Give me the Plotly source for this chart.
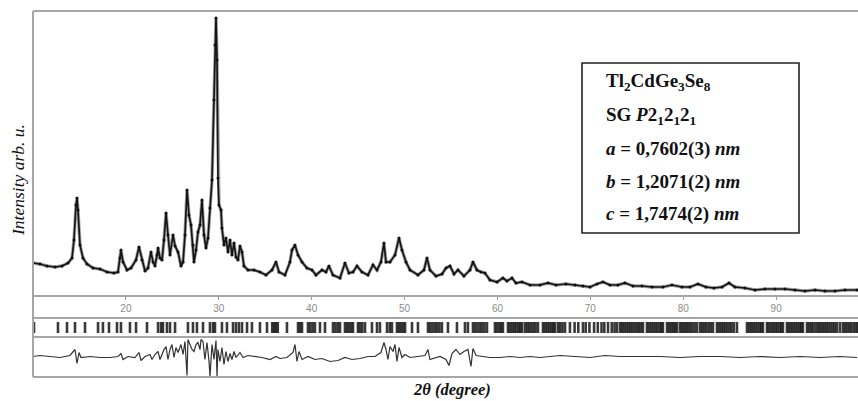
import plotly.graph_objects as go

# ---------------- data ----------------
two_theta = [10.00, 10.75, 11.51, 12.37, 13.12, 13.77, 14.20, 14.41, 14.63, 14.74, 14.84, 15.06, 15.38, 15.81,
             16.46, 17.21, 17.97, 18.72, 19.15, 19.36, 19.47, 19.69, 20.12, 20.55, 21.09, 21.41, 21.73, 22.06,
             22.38, 22.70, 22.92, 23.13, 23.35, 23.46, 23.67, 23.89, 24.10, 24.32, 24.53, 24.75, 25.07, 25.29,
             25.61, 25.93, 26.15, 26.36, 26.58, 26.79, 27.01, 27.22, 27.33, 27.55, 27.76, 27.98, 28.19, 28.41,
             28.62, 28.84, 29.05, 29.27, 29.48, 29.59, 29.70, 29.81, 29.91, 30.02, 30.24, 30.34, 30.56, 30.77,
             30.99, 31.21, 31.42, 31.64, 31.85, 32.07, 32.28, 32.50, 32.71, 33.14, 33.79, 34.43, 35.08, 35.73,
             36.16, 36.48, 37.13, 37.66, 37.88, 38.20, 38.53, 38.96, 39.49, 40.03, 40.46, 41.11, 41.54, 41.86,
             42.29, 43.05, 43.58, 44.01, 44.45, 44.88, 45.41, 46.06, 46.60, 47.03, 47.46, 47.78, 48.00, 48.43,
             48.97, 49.40, 49.72, 50.15, 50.58, 51.44, 52.09, 52.41, 52.73, 53.38, 54.03, 54.46, 54.89, 55.32,
             55.75, 56.39, 57.04, 57.36, 57.79, 58.22, 58.65, 59.19, 59.95, 60.59, 61.02, 61.56, 61.99, 62.64,
             63.50, 64.57, 65.44, 66.30, 67.37, 68.34, 69.20, 69.96, 70.71, 71.36, 72.11, 72.97, 73.72, 74.59,
             75.55, 76.63, 77.81, 78.78, 79.86, 80.72, 81.58, 82.44, 83.30, 84.17, 84.92, 85.56, 86.64, 87.72,
             88.79, 89.87, 90.95, 92.02, 93.10, 94.18, 95.25, 96.33, 97.41, 98.70]

intensity = [3300, 3200, 3000, 2900, 3000, 3300, 3800, 5600, 9100, 9800, 8600, 5100, 3800, 3200,
             2800, 2700, 2400, 2300, 2400, 3800, 4600, 3400, 2600, 2800, 3600, 4900, 3600, 2500,
             2800, 4400, 3400, 3000, 4100, 4800, 3800, 3600, 5600, 8300, 6100, 4100, 6100, 5000,
             4400, 3000, 3400, 6100, 10600, 8100, 7100, 5100, 3400, 4600, 6400, 7100, 9600, 6100,
             4800, 5800, 8800, 11600, 19600, 25100, 27800, 23600, 11800, 9100, 8600, 6800, 5100, 5800,
             4400, 5600, 4100, 5300, 3900, 3600, 5000, 4400, 3000, 2600, 2600, 2400, 2100, 2600,
             3400, 2400, 2100, 3400, 4600, 5100, 4100, 3400, 2800, 2600, 2100, 2600, 2400, 3000,
             2100, 1800, 3300, 2300, 2400, 3000, 2400, 2100, 3100, 2600, 3400, 5300, 3400, 3400,
             4100, 5800, 4600, 3400, 2600, 2100, 2600, 3800, 2600, 2000, 2200, 2800, 3000, 2200,
             2600, 2000, 2600, 3400, 2600, 2400, 2300, 1600, 1400, 1800, 1500, 1800, 1300, 1400,
             1100, 1100, 1300, 1100, 1200, 1100, 1000, 900, 1200, 1400, 1100, 1100, 1300, 1000,
             1000, 900, 900, 1100, 900, 900, 1200, 900, 800, 900, 1300, 900, 800, 600,
             700, 700, 700, 600, 500, 600, 500, 500, 600, 600]

diff_theta = [10.00, 10.75, 11.83, 12.91, 13.98, 14.52, 14.74, 14.95, 15.17, 16.14, 17.21, 18.29, 19.15, 19.47,
              19.69, 20.23, 20.98, 21.41, 21.63, 22.06, 22.59, 22.81, 23.13, 23.46, 23.67, 23.89, 24.10, 24.32,
              24.53, 24.75, 24.96, 25.18, 25.39, 25.61, 25.93, 26.15, 26.36, 26.58, 26.68, 26.90, 27.12, 27.33,
              27.55, 27.76, 27.98, 28.08, 28.30, 28.51, 28.73, 28.95, 29.05, 29.27, 29.48, 29.70, 29.81, 29.91,
              30.13, 30.34, 30.56, 30.77, 30.99, 31.21, 31.42, 31.64, 31.85, 32.28, 32.61, 33.14, 33.90, 34.65,
              35.51, 36.16, 36.59, 37.34, 37.99, 38.20, 38.42, 38.63, 38.96, 39.60, 40.35, 41.11, 41.97, 42.83,
              43.58, 44.34, 45.20, 46.06, 46.81, 47.46, 47.78, 48.00, 48.21, 48.43, 48.75, 48.97, 49.18, 49.40,
              49.72, 50.04, 50.58, 51.44, 52.20, 52.52, 52.73, 53.81, 54.46, 54.78, 55.10, 55.53, 55.96, 56.39,
              56.82, 57.15, 57.36, 57.69, 58.33, 59.19, 60.27, 61.35, 62.42, 63.50, 64.57, 65.65, 66.73, 68.34,
              69.96, 71.57, 73.19, 75.34, 77.49, 79.64, 81.80, 83.95, 86.10, 88.25, 90.41, 92.56, 94.72, 96.87,
              98.70]

diff_values = [0, 100, 0, -100, 100, 700, -700, 400, -100, 0, -100, -100, 0, 300,
               -300, 0, -100, 400, -400, 0, 200, -300, 200, 500, -300, 300, 700, 1000,
               -300, 700, 1200, -100, 900, 400, 1200, 200, 1500, -1900, 1700, 1200, 700, 500,
               1200, 1400, 700, 1700, 1500, -300, 1400, -500, -2000, 1200, -300, 1600, -2000, 700,
               -500, 900, -800, 500, -500, 300, -300, 500, -100, 400, -100, 100, 0, -100,
               -300, 0, -200, -100, 400, 1200, -500, 500, -300, 0, -300, -200, -500, -400,
               -100, -300, -200, 0, 0, 400, 1400, 700, -300, 1000, 500, 1200, -500, 900,
               -100, 200, -100, 0, 100, 700, -300, 0, -300, -900, 300, 700, 200, 500,
               700, -1000, 800, 100, 0, -100, -100, 0, -100, 0, -100, 0, 100, 0,
               -100, 100, 0, 0, 0, -100, 0, 0, -100, 0, -100, 0, -100, 0,
               -100]

bragg_positions = [10.11, 12.69, 13.66, 14.52, 15.60, 17.00, 17.53, 18.18, 19.04, 19.47, 20.44, 21.09, 22.27,
                   23.46, 23.78, 23.99, 24.42, 24.75, 25.29, 26.68, 27.22, 27.65, 28.30, 29.05, 29.38, 29.59,
                   30.34, 30.88, 31.53, 31.85, 32.17, 32.50, 33.04, 33.57, 34.43, 35.19,
                   35.75, 35.95, 36.15, 36.35, 37.34, 38.53, 38.75, 38.96, 39.60, 39.85, 40.10, 40.35, 40.89,
                   41.43, 42.29, 42.55, 42.80, 43.05, 43.58, 43.80, 44.02, 44.25, 44.45, 44.98, 45.20, 45.45,
                   45.74, 46.49, 47.03, 47.35, 48.11, 48.40, 48.64, 49.18, 49.40, 49.62, 49.85, 50.05, 50.80,
                   51.44, 52.52, 52.75, 53.00, 53.25, 53.50, 53.75, 54.02, 54.67, 55.64, 56.50, 56.82, 57.36,
                   57.60, 57.85, 58.10, 58.35, 58.60, 58.87, 59.73, 59.95, 60.20, 60.40, 60.59,
                   61.13, 61.35, 61.58, 61.80, 62.02, 62.25, 62.45, 62.64, 62.96, 63.20, 63.42, 63.65, 63.88,
                   64.10, 64.36, 64.90, 65.12, 65.35, 65.58, 65.80, 66.00, 66.19, 66.51, 66.75, 67.00, 67.27,
                   67.80, 68.30, 68.70, 69.20, 69.50, 69.90, 70.40, 70.80, 71.20, 71.50, 71.90, 72.30, 72.60,
                   72.86, 73.19, 73.40, 73.62, 73.85, 74.08, 74.30, 74.52, 74.75, 74.98, 75.20, 75.44, 75.66,
                   76.09, 76.32, 76.55, 76.78, 77.00, 77.22, 77.45, 77.65, 77.81, 78.25, 78.48, 78.70, 78.92,
                   79.12, 79.32, 79.64, 79.86, 80.08, 80.30, 80.52, 80.75, 80.98, 81.22, 81.47, 81.80, 82.02,
                   82.25, 82.48, 82.72, 82.95, 83.20, 83.63, 83.85, 84.08, 84.30, 84.52, 84.75, 84.98, 85.20,
                   85.45, 85.78, 86.86, 87.08, 87.30, 87.52, 87.75, 87.98, 88.20, 88.40, 88.58, 89.01, 89.22,
                   89.45, 89.68, 89.90, 90.12, 90.35, 90.55, 90.73, 91.16, 91.38, 91.60, 91.82, 92.05, 92.28,
                   92.50, 92.70, 92.88, 93.32, 93.55, 93.78, 94.00, 94.25, 94.50, 94.72, 94.95, 95.18, 95.40,
                   95.62, 95.85, 96.08, 96.30, 96.55, 96.87, 97.19, 97.42, 97.65, 97.88, 98.10, 98.35, 98.60,
                   98.80]

x_ticks = [20, 30, 40, 50, 60, 70, 80, 90]

info_lines = [
    "Tl<sub>2</sub>CdGe<sub>3</sub>Se<sub>8</sub>",
    "SG <i>P</i>2<sub>1</sub>2<sub>1</sub>2<sub>1</sub>",
    "<i>a</i> = 0,7602(3) <i>nm</i>",
    "<i>b</i> = 1,2071(2) <i>nm</i>",
    "<i>c</i> = 1,7474(2) <i>nm</i>",
]

# ---------------- figure ----------------
W, H = 858, 401
X_RANGE = [10, 98.81]


def py(v):
    return 1 - v / H


def px(v):
    return v / W


fig = go.Figure()

# calculated profile (gray, drawn underneath)
fig.add_trace(go.Scatter(x=two_theta, y=intensity, mode="lines",
                         line=dict(color="#a8a8a8", width=3.4),
                         xaxis="x", yaxis="y", showlegend=False, hoverinfo="skip"))
# observed profile (dense black points)
fig.add_trace(go.Scatter(x=two_theta, y=intensity, mode="lines+markers",
                         line=dict(color="#151515", width=1.7),
                         marker=dict(symbol="circle", size=3, color="#111111"),
                         xaxis="x", yaxis="y", showlegend=False))

# Bragg positions as vertical ticks
bx, by = [], []
for p in bragg_positions:
    bx += [p, p, None]
    by += [0.21, 0.79, None]
fig.add_trace(go.Scatter(x=bx, y=by, mode="lines",
                         line=dict(color="rgba(15,15,15,0.82)", width=2.6),
                         xaxis="x2", yaxis="y2", showlegend=False, hoverinfo="skip"))

# difference curve
fig.add_trace(go.Scatter(x=diff_theta, y=diff_values, mode="lines",
                         line=dict(color="#333333", width=1.2),
                         xaxis="x3", yaxis="y3", showlegend=False))

frame_col = "#a6a6a6"
shapes = []
for yy in [11, 296, 318, 337, 377]:
    shapes.append(dict(type="line", xref="paper", yref="paper", x0=px(33), x1=1.0,
                       y0=py(yy), y1=py(yy), line=dict(color=frame_col, width=2)))
shapes.append(dict(type="line", xref="paper", yref="paper", x0=px(33), x1=px(33),
                   y0=py(377), y1=py(11), line=dict(color=frame_col, width=2)))
shapes.append(dict(type="rect", xref="paper", yref="paper", x0=px(582), x1=px(799),
                   y0=py(233), y1=py(63), line=dict(color="#222222", width=1.6),
                   fillcolor="white"))

annotations = []
line_y = [82, 116, 149, 182, 214]
for txt, yy in zip(info_lines, line_y):
    annotations.append(dict(text="<b>" + txt + "</b>", xref="paper", yref="paper",
                            x=px(604), y=py(yy), xanchor="left", yanchor="middle",
                            showarrow=False,
                            font=dict(family="Liberation Serif", size=19, color="#111111")))
annotations.append(dict(text="<i>Intensity arb. u.</i>", xref="paper", yref="paper",
                        x=px(18), y=py(180), textangle=-90, showarrow=False,
                        xanchor="center", yanchor="middle",
                        font=dict(family="Liberation Serif", size=17.5, color="#111111")))
annotations.append(dict(text="<b><i>2θ (degree)</i></b>", xref="paper", yref="paper",
                        x=px(452), y=py(389), showarrow=False,
                        xanchor="center", yanchor="middle",
                        font=dict(family="Liberation Serif", size=16.5, color="#111111")))

common_x = dict(range=X_RANGE, domain=[px(33), 1.0], showgrid=False, zeroline=False,
                showline=False)

fig.update_layout(
    width=W, height=H,
    margin=dict(l=0, r=0, t=0, b=0),
    paper_bgcolor="white", plot_bgcolor="white",
    xaxis=dict(**common_x, anchor="y", tickvals=x_ticks, ticks="outside", ticklen=3,
               tickcolor="#9a9a9a", tickwidth=1,
               tickfont=dict(family="Liberation Sans", size=10, color="#8a8a8a")),
    yaxis=dict(domain=[py(296), py(11)], range=[0, 28500], showticklabels=False,
               showgrid=False, zeroline=False, showline=False, ticks=""),
    xaxis2=dict(**common_x, anchor="y2", showticklabels=False, ticks=""),
    yaxis2=dict(domain=[py(337), py(318)], range=[0, 1], showticklabels=False,
                showgrid=False, zeroline=False, ticks=""),
    xaxis3=dict(**common_x, anchor="y3", showticklabels=False, ticks=""),
    yaxis3=dict(domain=[py(377), py(337)], range=[-2050, 1950], showticklabels=False,
                showgrid=False, zeroline=False, ticks=""),
    shapes=shapes,
    annotations=annotations,
)

fig.write_html("out.html", config={"displayModeBar": False},
               post_script="document.body.style.margin='0';document.body.style.overflow='hidden';")
